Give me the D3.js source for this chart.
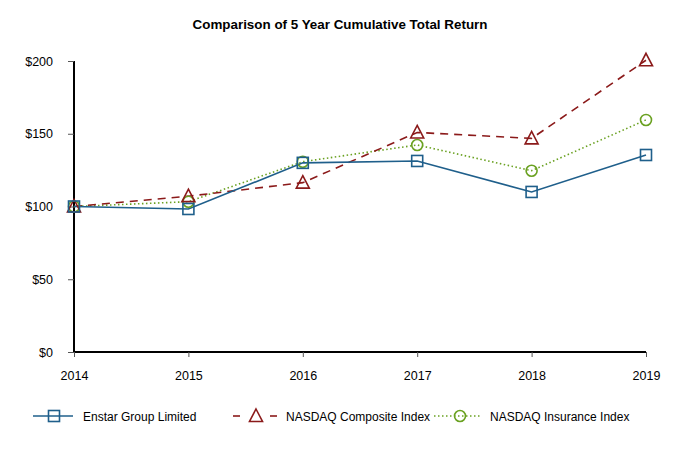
<!DOCTYPE html>
<html><head><meta charset="utf-8">
<script src="https://cdn.jsdelivr.net/npm/d3@7"></script>
<style>body{margin:0;background:#fff;}svg{display:block;font-family:"Liberation Sans",Arial,sans-serif;}</style>
</head><body>
<svg id="c" width="680" height="453"></svg>
<script>
const years = ["2014","2015","2016","2017","2018","2019"];
const enstar = [100, 98.3, 130, 131.3, 110, 135.4];
const composite = [100, 107.1, 116.4, 150.9, 146.8, 200.5];
const insurance = [100, 103.3, 130.8, 142.3, 124.6, 159.5];
const yTicks = [0, 50, 100, 150, 200];
const seriesNames = ["Enstar Group Limited", "NASDAQ Composite Index", "NASDAQ Insurance Index"];

const svg = d3.select("#c");
const x = d3.scalePoint().domain(years).range([74, 646]);
const y = d3.scaleLinear().domain([0, 200]).range([352, 61]);

svg.append("text").attr("x", 340).attr("y", 29).attr("text-anchor", "middle")
  .attr("font-weight", "bold").attr("font-size", 13.4).text("Comparison of 5 Year Cumulative Total Return");

const yAxis = svg.append("g").attr("transform", "translate(74,0)")
  .call(d3.axisLeft(y).tickValues(yTicks).tickSize(6).tickPadding(15).tickFormat(d => "$" + d));
const xAxis = svg.append("g").attr("transform", "translate(0,352)")
  .call(d3.axisBottom(x).tickSize(5).tickPadding(14));
[yAxis, xAxis].forEach(g => {
  g.select(".domain").attr("stroke", "#000").attr("stroke-width", 2);
  g.selectAll(".tick line").attr("stroke", "#555").attr("stroke-width", 1);
  g.selectAll("text").attr("font-size", 12.5).attr("fill", "#000").attr("font-family", "\"Liberation Sans\",Arial,sans-serif");
});
xAxis.select(".domain").attr("d", "M74,0H646");
yAxis.select(".domain").attr("d", "M0,61V352");

const series = [
  {name: seriesNames[0], values: enstar, color: "#1F5F8B", dash: null, width: 1.6, marker: "square"},
  {name: seriesNames[1], values: composite, color: "#8B1A1A", dash: "8,6", width: 1.6, marker: "triangle"},
  {name: seriesNames[2], values: insurance, color: "#6AA121", dash: "1.5,2.5", width: 1.6, marker: "circle"}
];

function drawMarker(g, type, cx, cy, color) {
  if (type === "square") {
    g.append("rect").attr("x", cx - 5.5).attr("y", cy - 5.5).attr("width", 11).attr("height", 11)
      .attr("fill", "none").attr("stroke", color).attr("stroke-width", 1.6);
  } else if (type === "triangle") {
    g.append("path").attr("d", `M${cx},${cy - 7}L${cx + 6.5},${cy + 5.5}L${cx - 6.5},${cy + 5.5}Z`)
      .attr("fill", "none").attr("stroke", color).attr("stroke-width", 1.6);
  } else {
    g.append("circle").attr("cx", cx).attr("cy", cy).attr("r", 5.5)
      .attr("fill", "none").attr("stroke", color).attr("stroke-width", 1.6);
  }
}

const line = d3.line().x((d, i) => x(years[i])).y(d => y(d));
series.slice().reverse().forEach(s => {
  svg.append("path").datum(s.values).attr("d", line).attr("fill", "none")
    .attr("stroke", s.color).attr("stroke-width", s.width).attr("stroke-dasharray", s.dash);
});
series.slice().reverse().forEach(s => {
  const g = svg.append("g");
  s.values.forEach((v, i) => drawMarker(g, s.marker, x(years[i]), y(v), s.color));
});

// legend
const ly = 416;
const legend = [
  {line: [33, 73], mark: 54, text: 83},
  {line: [233, 277], mark: 256, text: 286},
  {line: [434, 481], mark: 460, text: 490}
];
series.forEach((s, i) => {
  const g = svg.append("g");
  const L = legend[i];
  if (i === 1) {
    [[233, 240], [270, 277]].forEach(seg => g.append("line").attr("x1", seg[0]).attr("x2", seg[1])
      .attr("y1", ly).attr("y2", ly).attr("stroke", s.color).attr("stroke-width", s.width));
  } else {
    g.append("line").attr("x1", L.line[0]).attr("x2", L.line[1]).attr("y1", ly).attr("y2", ly)
      .attr("stroke", s.color).attr("stroke-width", s.width).attr("stroke-dasharray", s.dash);
  }
  drawMarker(g, s.marker, L.mark, ly, s.color);
  g.append("text").attr("x", L.text).attr("y", ly + 4.5).attr("font-size", 12).attr("fill", "#000").text(s.name);
});
</script>
</body></html>
